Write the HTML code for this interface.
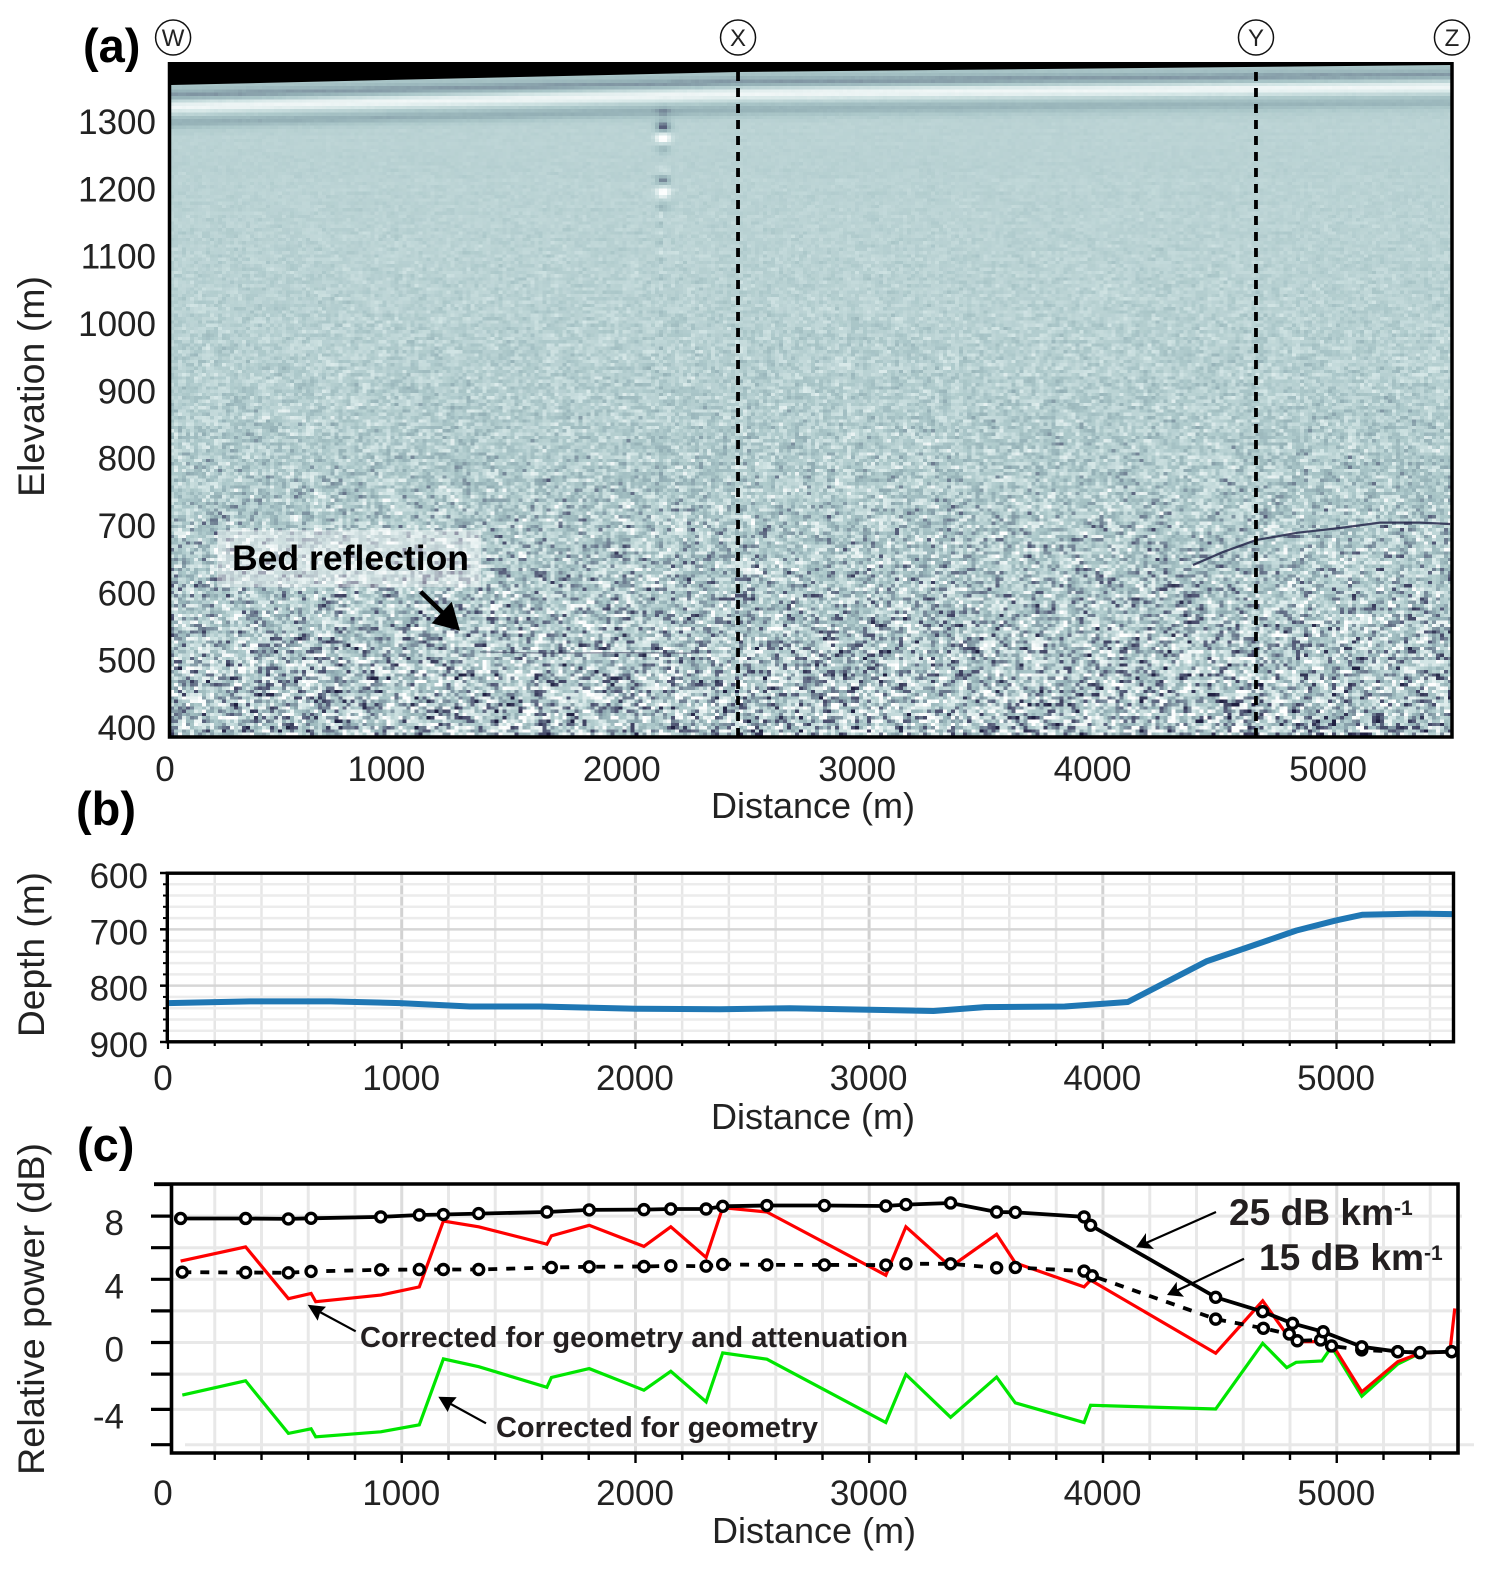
<!DOCTYPE html>
<html lang="en">
<head>
<meta charset="utf-8">
<title>Radar profile, bed depth and relative bed power</title>
<style>
html,body{margin:0;padding:0;background:#fff;}
#page{position:relative;width:1493px;height:1569px;overflow:hidden;background:#fff;font-family:"Liberation Sans",sans-serif;}
#radargram{position:absolute;left:170px;top:63px;width:1282px;height:673px;image-rendering:pixelated;}
#overlay{position:absolute;left:0;top:0;}
text{font-family:"Liberation Sans",sans-serif;}
</style>
</head>
<body>
<div id="page">
<canvas id="radargram" width="320" height="204"></canvas>
<svg id="overlay" width="1493" height="1569" viewBox="0 0 1493 1569" xmlns="http://www.w3.org/2000/svg">
  <g id="panelA">
    <polygon points="168,62 1453,62 1453,65 738,72 171,85 168,85" fill="#000"/>
    <rect x="217" y="530" width="264" height="57" fill="#fff" fill-opacity="0.42"/>
    <text x="232" y="570" font-size="35" font-weight="700" fill="#000" textLength="237" lengthAdjust="spacingAndGlyphs">Bed reflection</text>
    <line x1="420.7" y1="591.7" x2="446" y2="616" stroke="#000" stroke-width="4.5"/>
    <polygon points="460,630.7 451.7,601.7 431.7,623.3" fill="#000"/>
    <text x="83" y="62" font-size="47" font-weight="700" fill="#000">(a)</text>
    <text x="711" y="818" font-size="36" fill="#222" textLength="204" lengthAdjust="spacingAndGlyphs">Distance (m)</text>
    <text transform="translate(44,497) rotate(-90)" font-size="37" fill="#222" textLength="221" lengthAdjust="spacingAndGlyphs">Elevation (m)</text>
  </g>
  <g id="panelB">
    <text x="76" y="825" font-size="47" font-weight="700" fill="#000">(b)</text>
    <text x="711" y="1129" font-size="36" fill="#222" textLength="204" lengthAdjust="spacingAndGlyphs">Distance (m)</text>
    <text transform="translate(44,1037) rotate(-90)" font-size="37" fill="#222" textLength="165" lengthAdjust="spacingAndGlyphs">Depth (m)</text>
  </g>
  <g id="panelC">
    <text x="77" y="1161" font-size="47" font-weight="700" fill="#000">(c)</text>
    <text x="712" y="1543" font-size="36" fill="#222" textLength="204" lengthAdjust="spacingAndGlyphs">Distance (m)</text>
    <text transform="translate(44,1475) rotate(-90)" font-size="37" fill="#222" textLength="332" lengthAdjust="spacingAndGlyphs">Relative power (dB)</text>
  </g>
  <g id="panelCNotes">
    <text x="360" y="1347" font-size="29" font-weight="700" fill="#231f20" textLength="548" lengthAdjust="spacingAndGlyphs">Corrected for geometry and attenuation</text>
    <text x="496" y="1437" font-size="29" font-weight="700" fill="#231f20" textLength="322" lengthAdjust="spacingAndGlyphs">Corrected for geometry</text>
    <text x="1229" y="1225" font-size="37" font-weight="700" fill="#231f20" textLength="165" lengthAdjust="spacingAndGlyphs">25 dB km</text>
    <text x="1394" y="1215" font-size="21" font-weight="700" fill="#231f20">-1</text>
    <text x="1259" y="1270" font-size="37" font-weight="700" fill="#231f20" textLength="165" lengthAdjust="spacingAndGlyphs">15 dB km</text>
    <text x="1424" y="1260" font-size="21" font-weight="700" fill="#231f20">-1</text>
    <line x1="355.7" y1="1331.3" x2="318" y2="1311" stroke="#000" stroke-width="2.2"/>
    <polygon points="307.7,1304.7 326,1306.7 320,1313 317.7,1320.7" fill="#000"/>
    <line x1="486" y1="1423.3" x2="449" y2="1403" stroke="#000" stroke-width="2.2"/>
    <polygon points="438.3,1396.7 456.7,1397.3 451,1404 447.7,1412" fill="#000"/>
    <line x1="1216" y1="1212" x2="1146" y2="1243" stroke="#000" stroke-width="2.2"/>
    <polygon points="1136,1247.3 1146,1233 1146,1241 1154,1249" fill="#000"/>
    <line x1="1244" y1="1258.7" x2="1176" y2="1291" stroke="#000" stroke-width="2.2"/>
    <polygon points="1167,1295 1176.7,1281.7 1177,1289 1184,1296.7" fill="#000"/>
  </g>
</svg>
</div>
<script>
/* ---------- Panel (a) data ---------- */
const aXLabels = [0, 1000, 2000, 3000, 4000, 5000];
const aYLabels = [1300, 1200, 1100, 1000, 900, 800, 700, 600, 500, 400];
const profileMarkerDistance = [94, 2498, 4702, 5536];
const profileMarkerNames = ['W', 'X', 'Y', 'Z'];
const bedDistance = [4434, 4560, 4702, 4880, 5060, 5230, 5400, 5528];
const bedElevation = [642, 661, 679, 690, 697, 705, 705, 703];
const faintBedDistance = [1400, 1700, 2000, 2300];
const faintBedElevation = [513, 511, 512, 511];

/* ---------- Panel (b) data ---------- */
const bXLabels = [0, 1000, 2000, 3000, 4000, 5000];
const bYLabels = [600, 700, 800, 900];
const depthDistance = [0, 351, 697, 993, 1292, 1591, 2019, 2362, 2661, 3275, 3495, 3837, 4107, 4443, 4599, 4829, 5000, 5112, 5342, 5500];
const depthValues = [831, 828, 828, 831, 837, 837, 841, 842, 840, 845, 838, 837, 829, 757, 735, 702, 684, 674, 672, 673];

/* ---------- Panel (c) data ---------- */
const cXLabels = [0, 1000, 2000, 3000, 4000, 5000];
const cYLabels = [8, 4, 0, -4];
const cYTicks = [10, 8, 6, 4, 2, 0, -2, -4, -6];
const power25Distance = [54, 332, 515, 612, 910, 1075, 1178, 1329, 1621, 1802, 2036, 2151, 2302, 2373, 2562, 2808, 3071, 3157, 3348, 3545, 3625, 3919, 3947, 4482, 4683, 4811, 4942, 5107, 5261, 5356, 5492];
const power25Values = [7.85, 7.85, 7.82, 7.86, 7.95, 8.07, 8.10, 8.16, 8.26, 8.39, 8.41, 8.45, 8.45, 8.62, 8.67, 8.67, 8.64, 8.73, 8.83, 8.26, 8.24, 7.95, 7.42, 2.86, 1.95, 1.21, 0.68, -0.27, -0.58, -0.64, -0.58];
const power15Distance = [61, 332, 515, 612, 910, 1075, 1178, 1329, 1640, 1802, 2036, 2151, 2302, 2373, 2562, 2808, 3071, 3157, 3348, 3545, 3625, 3919, 3954, 4482, 4686, 4797, 4831, 4931, 4978, 5107, 5261, 5356, 5492];
const power15Values = [4.45, 4.43, 4.41, 4.50, 4.60, 4.62, 4.62, 4.62, 4.75, 4.79, 4.81, 4.85, 4.83, 4.94, 4.91, 4.91, 4.90, 4.98, 4.98, 4.73, 4.75, 4.52, 4.22, 1.48, 0.90, 0.54, 0.11, 0.16, -0.22, -0.47, -0.58, -0.64, -0.58];
const redDistance = [54, 332, 515, 612, 632, 910, 1075, 1178, 1329, 1621, 1640, 1802, 2036, 2151, 2302, 2373, 2562, 3071, 3157, 3348, 3545, 3625, 3919, 3947, 4482, 4683, 4797, 4831, 4931, 4978, 5107, 5261, 5356, 5484, 5505];
const redValues = [5.15, 6.05, 2.77, 3.11, 2.58, 3.00, 3.52, 7.69, 7.32, 6.22, 6.75, 7.42, 6.08, 7.32, 5.38, 8.54, 8.26, 4.26, 7.32, 4.79, 6.85, 5.04, 3.52, 3.95, -0.68, 2.64, 0.28, 0.05, 0.05, -0.05, -3.0, -1.21, -0.68, -0.58, 2.16];
const greenDistance = [61, 332, 515, 612, 632, 910, 1075, 1178, 1329, 1621, 1640, 1802, 2036, 2151, 2302, 2373, 2562, 3071, 3157, 3348, 3545, 3625, 3919, 3947, 4482, 4683, 4786, 4826, 4936, 4978, 5107, 5261, 5356];
const greenValues = [-3.19, -2.38, -5.36, -5.10, -5.55, -5.27, -4.87, -1.04, -1.53, -2.75, -2.19, -1.65, -2.91, -1.82, -3.57, -0.66, -1.06, -4.74, -2.02, -4.45, -2.17, -3.63, -4.74, -3.77, -3.98, -0.05, -1.59, -1.25, -1.17, -0.27, -3.25, -1.36, -0.68];

/* ---------- Axis functions ---------- */
function xA(d) { return 151 + 0.235 * d; }
function yA(e) { return 122 + (1300 - e) * 0.6733; }
function xB(d) { return 168 + 0.2337 * d; }
function yB(v) { return 873 + (v - 600) * 0.5633; }
function xC(d) { return 168 + 0.23375 * d; }
function yC(v) {
  if (v >= -2) { return 1342.5 - v * 15.8; }
  return 1374.1 + (-2 - v) * 17.65;
}

const NS = 'http://www.w3.org/2000/svg';
function add(parent, tag, attrs, txt) {
  const el = document.createElementNS(NS, tag);
  for (const k in attrs) { el.setAttribute(k, attrs[k]); }
  if (txt !== undefined) { el.textContent = txt; }
  parent.appendChild(el);
  return el;
}
function pts(xs, ys, fx, fy) {
  return xs.map(function (x, i) { return fx(x).toFixed(1) + ',' + fy(ys[i]).toFixed(1); }).join(' ');
}

const gA = document.getElementById('panelA');
const gB = document.getElementById('panelB');
const gC = document.getElementById('panelC');
const gNotes = document.getElementById('panelCNotes');

/* ---------- Panel (a) ---------- */
const bedLine = add(gA, 'polyline', { points: pts(bedDistance, bedElevation, xA, yA), fill: 'none', stroke: '#25264a', 'stroke-width': 2.2, 'stroke-opacity': 0.85 });


const faintBed = add(gA, 'polyline', { points: pts(faintBedDistance, faintBedElevation, xA, yA), fill: 'none', stroke: '#3a3d5c', 'stroke-width': 1.2, 'stroke-opacity': 0.6 });



profileMarkerNames.forEach(function (name, i) {
  const cx = xA(profileMarkerDistance[i]);
  if (i === 1 || i === 2) {
    const dash = add(gA, 'line', { x1: cx, y1: 72, x2: cx, y2: 741, stroke: '#000', 'stroke-width': 3.8, 'stroke-dasharray': '9 7' });
    
    
  }
  const ring = add(gA, 'circle', { cx: cx, cy: 37.5, r: 17.5, fill: '#fff', stroke: '#111', 'stroke-width': 1.5 });
  
  
  const label = add(gA, 'text', { x: cx, y: 46, 'font-size': 24, 'text-anchor': 'middle', fill: '#222' }, name);
  
  
});

const frameA = add(gA, 'path', { d: 'M169.5,62 V737 H1452 V62', fill: 'none', stroke: '#000', 'stroke-width': 3.5 });



aXLabels.forEach(function (v) {
  const lx = v === 0 ? 165 : xA(v) + v / 2500;
  const t = add(gA, 'text', { x: lx, y: 781, 'font-size': 35, 'text-anchor': 'middle', fill: '#222' }, String(v));
  
  
});
aYLabels.forEach(function (v) {
  const t = add(gA, 'text', { x: 156, y: yA(v) + 12, 'font-size': 35, 'text-anchor': 'end', fill: '#222' }, String(v));
  
  
});

/* ---------- Panel (b) ---------- */
for (let d = 200; d < 5500; d += 200) {
  const major = d % 1000 === 0;
  const g = add(gB, 'line', { x1: xB(d), y1: 873, x2: xB(d), y2: 1042, stroke: major ? '#d2d2d2' : '#e6e6e6', 'stroke-width': major ? 3 : 2.5 });
  
  
}
for (let v = 600; v <= 900; v += 20) {
  const major = v % 100 === 0;
  const g = add(gB, 'line', { x1: 167, y1: yB(v), x2: 1453, y2: yB(v), stroke: major ? '#d6d6d6' : '#ececec', 'stroke-width': 2.5 });
  
  
  const tk = add(gB, 'line', { x1: major ? 160 : 163, y1: yB(v), x2: 167, y2: yB(v), stroke: '#000', 'stroke-width': major ? 2.5 : 2 });
  
  
}
for (let d = 0; d < 5500; d += 200) {
  const major = d % 1000 === 0;
  const tk = add(gB, 'line', { x1: xB(d), y1: 1042, x2: xB(d), y2: major ? 1049 : 1046, stroke: '#000', 'stroke-width': 2.2 });
  
  
}
const depthLine = add(gB, 'polyline', { points: pts(depthDistance, depthValues, xB, yB), fill: 'none', stroke: '#1f77b4', 'stroke-width': 6, 'stroke-linejoin': 'round' });


const frameB = add(gB, 'rect', { x: 167.3, y: 873.2, width: 1286.2, height: 168.6, fill: 'none', stroke: '#000', 'stroke-width': 3.4 });


bXLabels.forEach(function (v) {
  const lx = v === 0 ? 163 : xB(v) - 0.5;
  const t = add(gB, 'text', { x: lx, y: 1090, 'font-size': 35, 'text-anchor': 'middle', fill: '#222' }, String(v));
  
  
});
bYLabels.forEach(function (v) {
  const t = add(gB, 'text', { x: 148, y: yB(v) + 15, 'font-size': 35, 'text-anchor': 'end', fill: '#222' }, String(v));
  
  
});

/* ---------- Panel (c) ---------- */
for (let d = 200; d < 5500; d += 200) {
  const major = d % 1000 === 0;
  const g = add(gC, 'line', { x1: xC(d), y1: 1184, x2: xC(d), y2: 1453, stroke: major ? '#dcdcdc' : '#e8e8e8', 'stroke-width': 3 });
  
  
}
cYTicks.forEach(function (v) {
  const y = yC(v);
  if (v < 10) {
    const g = add(gC, 'line', { x1: v === -6 ? 185 : 172, y1: y, x2: v === -6 ? 1474 : 1462, y2: y, stroke: '#e8e8e8', 'stroke-width': 3 });
    
    
  }
  const tk = add(gC, 'line', { x1: v === 10 ? 154 : 151, y1: y, x2: 172, y2: y, stroke: '#000', 'stroke-width': 3.2 });
  
  
});
for (let d = 200; d < 5500; d += 200) {
  const major = d % 1000 === 0;
  const tk = add(gC, 'line', { x1: xC(d), y1: 1453, x2: xC(d), y2: major ? 1463 : 1460, stroke: '#000', 'stroke-width': 2.4 });
  
  
}
const greenLine = add(gC, 'polyline', { points: pts(greenDistance, greenValues, xC, yC), fill: 'none', stroke: '#00e600', 'stroke-width': 3.2, 'stroke-linejoin': 'miter' });


const redLine = add(gC, 'polyline', { points: pts(redDistance, redValues, xC, yC), fill: 'none', stroke: '#ff0000', 'stroke-width': 3.2, 'stroke-linejoin': 'miter' });


const line15 = add(gC, 'polyline', { points: pts(power15Distance, power15Values, xC, yC), fill: 'none', stroke: '#000', 'stroke-width': 3.8, 'stroke-dasharray': '9 9' });


power15Distance.forEach(function (d, i) {
  const c = add(gC, 'circle', { cx: xC(d), cy: yC(power15Values[i]), r: 5, fill: '#fff', stroke: '#000', 'stroke-width': 3.4 });
  
  
});
const line25 = add(gC, 'polyline', { points: pts(power25Distance, power25Values, xC, yC), fill: 'none', stroke: '#000', 'stroke-width': 3.8 });


power25Distance.forEach(function (d, i) {
  const c = add(gC, 'circle', { cx: xC(d), cy: yC(power25Values[i]), r: 5, fill: '#fff', stroke: '#000', 'stroke-width': 3.4 });
  
  
});
const frameC = add(gC, 'path', { d: 'M154,1184 H1458 V1453 H171.5 V1184', fill: 'none', stroke: '#000', 'stroke-width': 3.6 });


cXLabels.forEach(function (v) {
  const lx = v === 0 ? 163 : xC(v) - 0.5;
  const t = add(gC, 'text', { x: lx, y: 1505, 'font-size': 35, 'text-anchor': 'middle', fill: '#222' }, String(v));
  
  
});
cYLabels.forEach(function (v) {
  const t = add(gC, 'text', { x: 124, y: yC(v) + 19, 'font-size': 35, 'text-anchor': 'end', fill: '#222' }, String(v));
  
  
});
document.getElementById('overlay').appendChild(gNotes);

/* ---------- Radargram raster texture (image background, not chart series) ---------- */
(function () {
  const cv = document.getElementById('radargram');
  const ctx = cv.getContext('2d');
  const W = cv.width, H = cv.height;
  const img = ctx.createImageData(W, H);
  let seed = 20240611;
  function rnd() {
    seed = (seed + 0x6D2B79F5) | 0;
    let t = Math.imul(seed ^ (seed >>> 15), 1 | seed);
    t = (t + Math.imul(t ^ (t >>> 7), 61 | t)) ^ t;
    return ((t ^ (t >>> 14)) >>> 0) / 4294967296;
  }
  function gauss(d, s) { return Math.exp(-(d * d) / (2 * s * s)); }
  const stops = [[0, 32, 32, 66], [0.22, 82, 88, 118], [0.42, 148, 176, 182], [0.55, 172, 200, 202], [0.72, 212, 230, 230], [0.9, 250, 252, 252], [1, 255, 255, 255]];
  function cmap(v) {
    v = Math.max(0, Math.min(1, v));
    for (let i = 1; i < stops.length; i++) {
      if (v <= stops[i][0]) {
        const a = stops[i - 1], b = stops[i], f = (v - a[0]) / (b[0] - a[0]);
        return [a[1] + (b[1] - a[1]) * f, a[2] + (b[2] - a[2]) * f, a[3] + (b[3] - a[3]) * f];
      }
    }
    return [255, 255, 255];
  }
  const ampY = [[63, 0.006], [150, 0.012], [220, 0.03], [300, 0.055], [400, 0.1], [480, 0.16], [560, 0.23], [640, 0.3], [736, 0.38]];
  function amp(y) {
    for (let i = 1; i < ampY.length; i++) {
      if (y <= ampY[i][0]) {
        const f = (y - ampY[i - 1][0]) / (ampY[i][0] - ampY[i - 1][0]);
        return ampY[i - 1][1] + (ampY[i][1] - ampY[i - 1][1]) * f;
      }
    }
    return 0.38;
  }
  function surface(x) {
    return x < 738 ? 85 - (x - 171) * 13 / 567 : 72 - (x - 738) * 7 / 712;
  }
  const stripeBlobs = [[112, -0.12], [127, -0.42], [138, 0.42], [148, -0.16], [172, 0.1], [180, -0.3], [192, 0.36], [205, -0.1]];
  for (let j = 0; j < H; j++) {
    let prev = 0;
    const y = 63 + (j + 0.5) * 673 / H;
    const base = y < 300 ? 0.61 : (y < 560 ? 0.61 - (y - 300) * 0.0002 : 0.558);
    const bandRow = (rnd() - 0.5) * 0.012 * (y < 300 ? 1 : 0);
    for (let i = 0; i < W; i++) {
      const x = 170 + (i + 0.5) * 1282 / W;
      const r = (rnd() + rnd() + rnd() - 1.5) * 1.6;
      const n = 0.82 * r + 0.25 * prev;
      prev = r;
      const s = surface(x);
      const leftBoost = 1 - (x - 171) / 1280 * 0.4;
      let v = base + amp(y) * n + bandRow;
      v -= 0.06 * gauss(y - s, 3);
      v -= 0.25 * gauss(y - s - 10, 4.2);
      v += 0.25 * gauss(y - s - 22, 4.5);
      v -= 0.1 * gauss(y - s - 36, 6);
      v -= 0.1 * leftBoost * gauss(y - s - 38, 3);
      const dx = x - 663;
      if (Math.abs(dx) < 20) {
        for (let b = 0; b < stripeBlobs.length; b++) {
          v += stripeBlobs[b][1] * gauss(y - stripeBlobs[b][0], 4) * gauss(dx, 5);
        }
        if (y >= 205 && y < 420) {
          v += 0.1 * Math.cos(y * 0.35) * gauss(x - 660, 2.2) * (1 - (y - 205) / 260);
        }
      }
      const c = cmap(v);
      const k = (j * W + i) * 4;
      img.data[k] = c[0];
      img.data[k + 1] = c[1];
      img.data[k + 2] = c[2];
      img.data[k + 3] = 255;
    }
  }
  ctx.putImageData(img, 0, 0);
})();
</script>
</body>
</html>
